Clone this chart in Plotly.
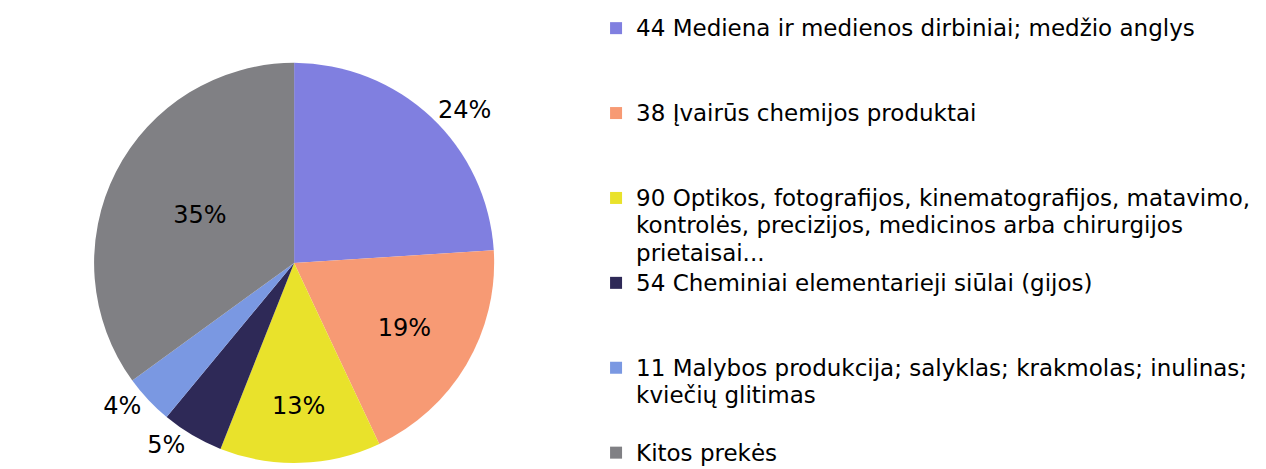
import plotly.graph_objects as go

categories = [
    "44 Mediena ir medienos dirbiniai; medžio anglys",
    "38 Įvairūs chemijos produktai",
    "90 Optikos, fotografijos, kinematografijos, matavimo,<br>kontrolės, precizijos, medicinos arba chirurgijos<br>prietaisai...",
    "54 Cheminiai elementarieji siūlai (gijos)",
    "11 Malybos produkcija; salyklas; krakmolas; inulinas;<br>kviečių glitimas",
    "Kitos prekės",
]
values = [24, 19, 13, 5, 4, 35]
colors = ["#807FE0", "#F79A74", "#E9E22B", "#2E2957", "#7A98E2", "#808084"]
text_positions = ["outside", "inside", "inside", "outside", "outside", "inside"]

FONT = "DejaVu Sans"
LEGEND_TEXT_SIZE = 23


# Excel spaces legend entries evenly: pad every entry to three lines
def legend_label(label, n=3, last=False):
    lines = [f'<span style="font-size:{LEGEND_TEXT_SIZE}px">{ln}</span>' for ln in label.split("<br>")]
    if not last:
        lines += ["&nbsp;"] * max(0, n - len(lines))
    return "<br>".join(lines)


legend_labels = [legend_label(c, last=(i == len(categories) - 1)) for i, c in enumerate(categories)]

fig = go.Figure(
    go.Pie(
        labels=legend_labels,
        values=values,
        sort=False,
        direction="clockwise",
        rotation=0,
        marker=dict(colors=colors, line=dict(width=0)),
        textinfo="percent",
        texttemplate="%{percent:.0%}",
        textposition=text_positions,
        textfont=dict(family=FONT, size=24, color="#000000"),
        insidetextfont=dict(family=FONT, size=24, color="#000000"),
        outsidetextfont=dict(family=FONT, size=24, color="#000000"),
        domain=dict(x=[0.0, 0.452], y=[0.03, 0.883]),
        hoverinfo="percent",
    )
)

fig.update_layout(
    width=1266,
    height=469,
    margin=dict(l=0, r=0, t=0, b=0, autoexpand=False),
    paper_bgcolor="#FFFFFF",
    plot_bgcolor="#FFFFFF",
    font=dict(family=FONT, size=21, color="#000000"),
    showlegend=True,
    legend=dict(
        xref="container",
        yref="container",
        x=0.4645,
        xanchor="left",
        y=1.006,
        yanchor="top",
        valign="top",
        font=dict(family=FONT, size=21, color="#000000"),
        bgcolor="rgba(0,0,0,0)",
        borderwidth=0,
        traceorder="normal",
        maxheight=700,
    ),
)

fig.write_html("out.html")
